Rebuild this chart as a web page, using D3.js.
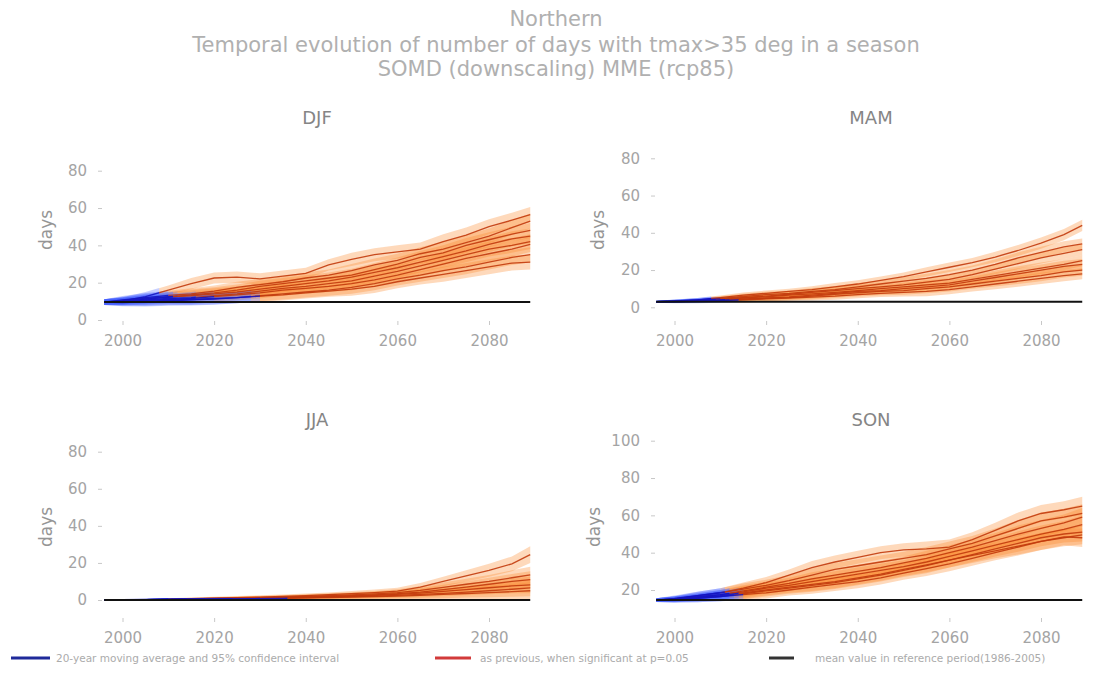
<!DOCTYPE html>
<html><head><meta charset="utf-8">
<script src="https://cdn.jsdelivr.net/npm/d3@7"></script>
<style>body{margin:0;background:#fff;} text{font-family:"DejaVu Sans",sans-serif;}</style>
</head><body><svg id="c" width="1102" height="683"></svg>
<script>
// ---------------- DATA ----------------
const years = [1996,2000,2005,2010,2015,2020,2025,2030,2035,2040,2045,2050,2055,2060,2065,2070,2075,2080,2085,2089];
const seasons = ["DJF","MAM","JJA","SON"];
const titleLines = ["Northern","Temporal evolution of number of days with tmax>35 deg in a season","SOMD (downscaling) MME (rcp85)"];
const yLabel = "days";
const xTicks = [2000,2020,2040,2060,2080];
const yTicksDJF = [0,20,40,60,80];
const yTicksMAM = [0,20,40,60,80];
const yTicksJJA = [0,20,40,60,80];
const yTicksSON = [20,40,60,80,100];
const legendLabels = ["20-year moving average and 95% confidence interval","as previous, when significant at p=0.05","mean value in reference period(1986-2005)"];

const refDJF = 9.6, refMAM = 3.0, refJJA = 0.0, refSON = 14.6;

const djf = [
 [9.6,10.2,12.5,16.0,19.5,22.5,23.0,22.0,23.5,25.0,29.5,32.5,35.0,36.5,38.0,42.0,45.5,50.0,53.5,56.5],
 [9.6,10.8,12.0,13.2,14.0,15.5,17.5,19.0,20.5,22.5,24.0,26.5,29.5,32.0,35.5,38.0,41.5,45.0,49.5,53.0],
 [9.6,10.0,11.2,12.2,13.5,14.5,16.0,18.0,19.5,21.0,22.5,24.0,27.0,30.0,33.5,36.0,40.0,43.0,46.0,48.0],
 [9.6,10.5,11.5,12.5,13.0,14.0,15.0,16.5,18.0,19.5,21.0,23.0,25.5,28.0,31.0,34.0,37.0,40.5,43.5,45.0],
 [9.6,9.8,10.8,11.5,12.0,13.0,14.0,15.5,17.0,18.0,19.5,21.0,23.5,26.0,29.0,32.0,35.0,38.0,40.0,42.0],
 [9.6,10.0,10.5,11.0,11.5,12.5,13.5,14.5,16.0,17.0,18.0,19.5,21.5,24.0,27.0,30.0,33.0,35.5,38.0,40.5],
 [9.6,9.4,9.8,10.2,10.8,11.2,12.0,13.0,14.0,15.0,16.0,17.5,19.5,22.0,24.0,26.5,28.5,31.0,33.5,35.0],
 [9.6,9.6,10.0,10.5,11.0,11.5,12.0,12.8,13.5,14.5,15.5,16.5,18.0,20.5,22.5,24.5,26.5,28.5,30.5,31.0]
];
const ciDJF = [1.5,2.0,2.5,2.5,3.0,3.0,3.0,3.0,3.0,3.0,3.0,3.5,3.5,3.5,3.5,4.0,4.0,4.0,4.0,4.0];
const sigDJF = [2008,2010,2012,2011,2016,2020,2028,2030];

const mam = [
 [3.0,3.3,4.0,5.2,6.5,7.5,8.5,9.5,11.0,12.5,14.5,16.5,19.0,21.5,24.0,27.0,30.5,34.5,39.0,44.0],
 [3.0,3.4,4.0,4.8,5.8,6.8,7.5,8.5,9.5,11.0,12.5,14.0,15.5,17.5,20.0,23.0,26.5,29.5,32.5,34.0],
 [3.0,3.2,3.8,4.5,5.2,6.0,7.0,8.0,9.0,10.0,11.0,12.0,13.5,15.0,17.5,20.5,23.5,26.5,29.0,31.0],
 [3.0,3.2,3.6,4.2,5.0,5.6,6.5,7.2,8.0,9.0,10.0,11.0,12.0,13.0,15.0,17.0,19.0,21.0,23.0,25.0],
 [3.0,3.1,3.4,4.0,4.5,5.0,5.6,6.5,7.5,8.5,9.0,10.0,11.0,12.0,14.0,16.0,18.0,20.0,22.0,23.0],
 [3.0,3.1,3.3,3.8,4.3,4.8,5.2,6.0,7.0,7.8,8.5,9.0,10.0,11.0,12.5,14.0,15.5,17.0,19.0,20.0],
 [3.0,3.0,3.2,3.6,4.0,4.5,5.0,5.5,6.0,6.8,7.5,8.0,8.5,9.5,11.0,12.5,14.0,15.5,17.0,18.0]
];
const ciMAM = [0.5,0.8,1.0,1.2,1.5,1.5,1.5,1.8,2.0,2.0,2.0,2.2,2.5,2.5,2.5,2.8,3.0,3.0,3.0,3.0];
const sigMAM = [2008,2008,2010,2009,2011,2012,2014];

const jja = [
 [0,0.1,0.3,0.5,0.7,1.0,1.3,1.6,2.0,2.4,2.9,3.4,4.0,4.8,7.0,10.0,13.0,16.0,19.5,24.5],
 [0,0.1,0.2,0.4,0.6,0.8,1.0,1.3,1.6,2.0,2.4,2.8,3.3,4.0,5.2,6.8,8.5,10.0,12.0,13.5],
 [0,0.0,0.2,0.3,0.5,0.7,0.9,1.1,1.4,1.7,2.0,2.4,2.8,3.4,4.3,5.6,7.0,8.5,10.0,11.0],
 [0,0.0,0.1,0.3,0.4,0.6,0.8,1.0,1.2,1.5,1.8,2.1,2.5,3.0,3.7,4.6,5.6,6.6,7.6,8.2],
 [0,0.0,0.1,0.2,0.3,0.5,0.6,0.8,1.0,1.2,1.5,1.8,2.1,2.5,3.0,3.6,4.3,5.0,5.8,6.5],
 [0,0.0,0.1,0.2,0.3,0.4,0.5,0.7,0.9,1.1,1.3,1.5,1.8,2.1,2.5,3.0,3.5,4.0,4.5,5.0]
];
const ciJJA = [0.2,0.3,0.4,0.5,0.6,0.7,0.8,0.9,1.0,1.1,1.2,1.4,1.6,1.8,2.2,2.6,3.0,3.5,4.0,4.5];
const sigJJA = [2010,2014,2018,2024,2030,2036];

const son = [
 [14.6,15.2,17.0,18.5,21.0,24.0,28.0,32.0,35.0,37.5,40.0,41.5,42.0,43.0,47.0,52.0,57.0,61.0,63.0,65.0],
 [14.6,15.5,17.0,18.5,20.5,22.5,25.0,28.0,31.0,33.0,35.0,37.0,39.0,42.0,45.0,49.0,53.0,57.0,59.0,61.0],
 [14.6,15.0,16.0,17.5,19.5,21.5,23.5,26.0,28.0,30.0,32.0,34.5,37.0,40.0,43.0,46.5,50.0,53.0,56.0,59.0],
 [14.6,15.2,16.5,17.5,19.0,21.0,22.5,24.5,26.5,28.5,30.5,32.5,35.0,38.0,41.0,44.0,47.0,50.0,52.5,55.0],
 [14.6,14.8,15.5,16.5,18.0,19.5,21.0,22.5,24.0,26.0,28.0,30.5,33.0,36.0,39.0,42.0,45.0,48.0,50.0,51.0],
 [14.6,15.0,16.0,17.0,18.5,20.0,21.5,23.0,24.5,26.5,28.5,31.0,33.5,36.0,38.5,41.0,43.5,46.0,48.0,49.5],
 [14.6,14.8,15.5,16.5,17.5,18.5,20.0,21.5,23.0,24.5,26.5,29.0,31.5,34.0,37.0,40.0,43.0,46.0,48.5,48.0]
];
const ciSON = [1.0,1.5,2.0,2.5,3.0,3.0,3.0,3.5,3.5,3.5,3.5,3.5,4.0,4.0,4.0,4.0,4.5,4.5,4.5,5.0];
const sigSON = [2010,2011,2012,2012,2013,2014,2015];

// ---------------- LAYOUT ----------------
const svg = d3.select("#c");
const defs = svg.append("defs");
const W = 1102, H = 683;

const panels = [
 {name:seasons[0], models:djf, ci:ciDJF, sig:sigDJF, ref:refDJF, yTicks:yTicksDJF,
  xr:[122.5,489], yd:[0,80], yr:[320,170.7], axX:102, axY:321, title:[317,117], lab:[46,230]},
 {name:seasons[1], models:mam, ci:ciMAM, sig:sigMAM, ref:refMAM, yTicks:yTicksMAM,
  xr:[674.5,1041], yd:[0,80], yr:[307.3,158.3], axX:655, axY:321, title:[871,117], lab:[598,230]},
 {name:seasons[2], models:jja, ci:ciJJA, sig:sigJJA, ref:refJJA, yTicks:yTicksJJA,
  xr:[122.5,489], yd:[0,80], yr:[600,451.7], axX:102, axY:618, title:[317,419], lab:[46,527]},
 {name:seasons[3], models:son, ci:ciSON, sig:sigSON, ref:refSON, yTicks:yTicksSON,
  xr:[674.5,1041], yd:[20,100], yr:[590,440.7], axX:655, axY:618, title:[871,419], lab:[594,527]}
];

// main title
svg.append("g").selectAll("text").data(titleLines).join("text")
  .attr("x", 556).attr("y", (d,i)=>[19,45,69][i])
  .attr("text-anchor","middle").attr("dominant-baseline","central")
  .attr("font-size", 21).attr("fill","#b0b0b0").text(d=>d);

const orange = "#fb8a2c", redLine = "#c23a0c", blueFill = "#3a55ff", blueLine = "#1515c0";

panels.forEach((p, pi) => {
  const g = svg.append("g");
  const x = d3.scaleLinear().domain([xTicks[0], xTicks[xTicks.length-1]]).range(p.xr);
  const y = d3.scaleLinear().domain(p.yd).range(p.yr);

  const area = (m) => d3.area()
      .x((d,j)=>x(years[j]))
      .y0((d,j)=>y(Math.max(p.ref - (p.ref===0?0:3), d - p.ci[j])))
      .y1((d,j)=>y(d + p.ci[j]))(m);
  const line = d3.line().x((d,j)=>x(years[j])).y(d=>y(d));

  p.models.forEach((m,i)=>{
    const sx = x(p.sig[i]);
    defs.append("clipPath").attr("id",`r${pi}_${i}`).append("rect")
      .attr("x",sx).attr("y",0).attr("width",W).attr("height",H);
    defs.append("clipPath").attr("id",`b${pi}_${i}`).append("rect")
      .attr("x",0).attr("y",0).attr("width",sx).attr("height",H);
  });

  // bands
  p.models.forEach((m,i)=>{
    g.append("path").attr("d", area(m)).attr("fill", orange).attr("fill-opacity",0.32)
      .attr("clip-path",`url(#r${pi}_${i})`);
    g.append("path").attr("d", area(m)).attr("fill", blueFill).attr("fill-opacity",0.28)
      .attr("clip-path",`url(#b${pi}_${i})`);
  });
  // lines
  p.models.forEach((m,i)=>{
    g.append("path").attr("d", line(m)).attr("fill","none").attr("stroke", redLine)
      .attr("stroke-width",1.3).attr("stroke-opacity",0.9).attr("clip-path",`url(#r${pi}_${i})`);
    g.append("path").attr("d", line(m)).attr("fill","none").attr("stroke", blueLine)
      .attr("stroke-width",1.4).attr("stroke-opacity",0.9).attr("clip-path",`url(#b${pi}_${i})`);
  });
  // reference line
  g.append("line").attr("x1", x(years[0])).attr("x2", x(years[years.length-1]))
    .attr("y1", y(p.ref)).attr("y2", y(p.ref)).attr("stroke","#111").attr("stroke-width",2);

  // axes
  const ya = g.append("g").attr("transform",`translate(${p.axX},0)`)
    .call(d3.axisLeft(y).tickValues(p.yTicks).tickSize(4).tickPadding(11).tickFormat(d3.format("d")));
  const xa = g.append("g").attr("transform",`translate(0,${p.axY})`)
    .call(d3.axisBottom(x).tickValues(xTicks).tickSize(4).tickPadding(10).tickFormat(d3.format("d")));
  [ya, xa].forEach(a=>{
    a.select(".domain").remove();
    a.selectAll(".tick line").attr("stroke","#c8c8c8");
    a.selectAll(".tick text").attr("fill","#a4a4a4").attr("font-size",15).attr("font-family","DejaVu Sans");
  });

  // titles
  g.append("text").attr("x",p.title[0]).attr("y",p.title[1]).attr("text-anchor","middle")
    .attr("dominant-baseline","central").attr("font-size",18).attr("fill","#858585").text(p.name);
  g.append("text").attr("transform",`translate(${p.lab[0]},${p.lab[1]}) rotate(-90)`)
    .attr("text-anchor","middle").attr("dominant-baseline","central")
    .attr("font-size",17).attr("fill","#959595").text(yLabel);
});

// legend
const legColors = ["#1f2a9a","#d23a3a","#333333"];
const legPos = [[11,50,56],[435,471,480],[769,794,815]];
const lg = svg.append("g");
legendLabels.forEach((t,i)=>{
  lg.append("line").attr("x1",legPos[i][0]).attr("x2",legPos[i][1]).attr("y1",658).attr("y2",658)
    .attr("stroke",legColors[i]).attr("stroke-width",3);
  lg.append("text").attr("x",legPos[i][2]).attr("y",658).attr("dominant-baseline","central")
    .attr("font-size",10.5).attr("fill","#ababab").text(t);
});
</script></body></html>
